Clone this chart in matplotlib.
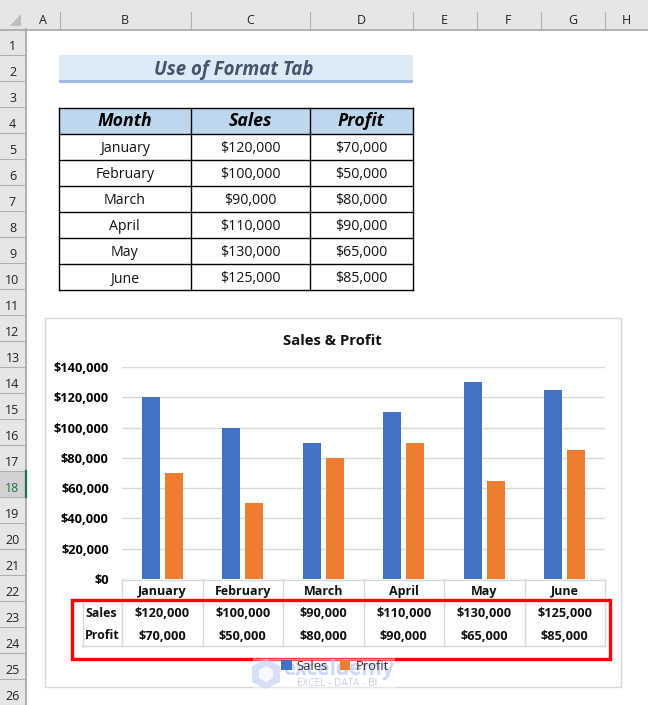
import matplotlib

matplotlib.use("Agg")
import matplotlib.pyplot as plt
from matplotlib.patches import Polygon, Rectangle
from matplotlib.ticker import FuncFormatter
from matplotlib.transforms import blended_transform_factory

W, H = 648, 705

months = ["January", "February", "March", "April", "May", "June"]
sales = [120000, 100000, 90000, 110000, 130000, 125000]
profit = [70000, 50000, 80000, 90000, 65000, 85000]
column_names = ["Month", "Sales", "Profit"]
sheet_columns = ["A", "B", "C", "D", "E", "F", "G", "H"]
column_edges = [26, 59.5, 190.5, 310, 412.5, 476.5, 540.5, 604.5, 648]

FONT = "Open Sans"
BLUE = "#4472C4"
ORANGE = "#ED7D31"
GRID = "#D9D9D9"
ROW_H = 26
ROW_TOP = 29


def money(value):
    return f"${value:,.0f}"


def row_y(row):
    return ROW_TOP + (row - 1) * ROW_H


def px_axes(fig, zorder):
    ax = fig.add_axes([0, 0, 1, 1], zorder=zorder)
    ax.set_xlim(0, W)
    ax.set_ylim(H, 0)
    ax.axis("off")
    ax.patch.set_visible(False)
    return ax


def draw_sheet(ax):
    # column and row headers
    ax.add_patch(Rectangle((0, 0), W, 29, fc="#E6E6E6", ec="none"))
    ax.add_patch(Rectangle((0, 0), 25.5, H, fc="#E6E6E6", ec="none"))
    ax.plot([0, W], [29.5, 29.5], color="#A6A6A6", lw=1.2)
    ax.plot([25.5, 25.5], [29, H], color="#A6A6A6", lw=1.2)
    ax.add_patch(Polygon([[21, 14], [21, 26], [10, 26]], fc="#BDBDBD", ec="none"))

    for i, name in enumerate(sheet_columns):
        left, right = column_edges[i], column_edges[i + 1]
        ax.plot([right, right], [12, 29], color="#B0B0B0", lw=0.8)
        ax.text((left + right) / 2, 24.5, name, ha="center", va="baseline",
                fontsize=9, color="#222222", family=FONT)

    for row in range(1, 27):
        y = row_y(row)
        ax.plot([0, 25], [y + ROW_H, y + ROW_H], color="#B0B0B0", lw=0.8)
        if row != 18:
            ax.text(12.5, y + 21.5, str(row), ha="center", va="baseline",
                    fontsize=9, color="#222222", family=FONT)

    # selected row marker
    ax.add_patch(Rectangle((0, row_y(18)), 25, ROW_H, fc="#D2D2D2", ec="none"))
    ax.text(12.5, row_y(18) + 21.5, "18", ha="center", va="baseline",
            fontsize=9, color="#217346", family=FONT)
    ax.plot([25.5, 25.5], [row_y(18), row_y(19)], color="#217346", lw=1.6)


def draw_title(ax):
    ax.add_patch(Rectangle((59, 55), 353.5, 26, fc="#DDEBF7", ec="none"))
    ax.add_patch(Rectangle((59, 80), 353.5, 3, fc="#A4BBE3", ec="none"))
    ax.text(234, 75, "Use of Format Tab", ha="center", va="baseline", fontsize=13.4,
            color="#44546A", weight="bold", style="italic", family=FONT)


def draw_table(ax):
    xs = [59, 190.5, 310, 412.5]
    top = 107.5
    ax.add_patch(Rectangle((xs[0], top), xs[-1] - xs[0], ROW_H, fc="#BDD7EE", ec="none"))

    for i, name in enumerate(column_names):
        ax.text((xs[i] + xs[i + 1]) / 2, top + 19, name, ha="center", va="baseline",
                fontsize=12.8, weight="bold", style="italic", color="black", family=FONT)

    for r, (month, s, p) in enumerate(zip(months, sales, profit), start=1):
        y = top + r * ROW_H + 19
        for i, label in enumerate([month, money(s), money(p)]):
            ax.text((xs[i] + xs[i + 1]) / 2, y, label, ha="center", va="baseline",
                    fontsize=10.2, color="#111111", family=FONT)

    for r in range(len(months) + 2):
        ax.plot([xs[0], xs[-1]], [top + r * ROW_H] * 2, color="black", lw=1)
    for x in xs:
        ax.plot([x, x], [top, top + 7 * ROW_H], color="black", lw=1)


def draw_chart(fig, sheet):
    sheet.add_patch(Rectangle((45, 318), 575.5, 369, fc="white", ec="#D9D9D9", lw=1))

    ax = fig.add_axes([122 / W, 1 - 579 / H, (605 - 122) / W, (579 - 367) / H], zorder=1)
    ax.patch.set_visible(False)
    x = list(range(len(months)))
    width = 0.224
    offset = 0.14
    sales_bars = ax.bar([i - offset for i in x], sales, width, color=BLUE, label="Sales", zorder=3)
    profit_bars = ax.bar([i + offset for i in x], profit, width, color=ORANGE, label="Profit", zorder=3)

    ax.set_xlim(-0.5, 5.5)
    ax.set_ylim(0, 140000)
    ax.set_yticks(range(0, 140001, 20000))
    ax.yaxis.set_major_formatter(FuncFormatter(lambda v, _: money(v)))
    ax.set_xticks([])
    ax.grid(axis="y", color=GRID, lw=1, zorder=0)
    ax.tick_params(axis="y", length=0, pad=9.5, labelsize=9.2)
    for label in ax.get_yticklabels():
        label.set_fontweight("bold")
        label.set_family(FONT)
    for spine in ax.spines.values():
        spine.set_visible(False)

    sheet.text(332, 345, "Sales & Profit", ha="center", va="baseline", fontsize=10.7,
               weight="bold", color="#111111", family=FONT)

    # data table below the axis, x from the chart axes, y in pixels
    trans = blended_transform_factory(ax.transData, sheet.transData)
    edges = [i - 0.5 for i in range(len(months) + 1)]
    for e in edges:
        sheet.plot([e, e], [579, 646], color=GRID, lw=1, transform=trans, zorder=3)
    sheet.plot([-0.5, 5.5], [579.5, 579.5], color=GRID, lw=1, transform=trans, zorder=3)
    sheet.plot([82, 605], [646, 646], color=GRID, lw=1, zorder=3)
    sheet.plot([82, 605], [600.5, 600.5], color=GRID, lw=1, zorder=3)
    sheet.plot([82.5, 82.5], [600, 646], color=GRID, lw=1, zorder=3)

    for i, month in enumerate(months):
        sheet.text(i, 594.7, month, transform=trans, ha="center", va="baseline",
                   fontsize=9, weight="bold", color="#111111", family=FONT, zorder=4)
        sheet.text(i, 617, money(sales[i]), transform=trans, ha="center", va="baseline",
                   fontsize=9.2, weight="bold", color="#111111", family=FONT, zorder=4)
        sheet.text(i, 640, money(profit[i]), transform=trans, ha="center", va="baseline",
                   fontsize=9.2, weight="bold", color="#111111", family=FONT, zorder=4)
    sheet.text(85, 617, "Sales", ha="left", va="baseline", fontsize=8.9,
               weight="bold", color="#111111", family=FONT, zorder=4)
    sheet.text(85, 639, "Profit", ha="left", va="baseline", fontsize=8.9,
               weight="bold", color="#111111", family=FONT, zorder=4)

    legend = fig.legend(
        [sales_bars, profit_bars], ["Sales", "Profit"], ncol=2, frameon=False,
        loc="center", bbox_to_anchor=(335 / W, 1 - 666 / H),
        prop={"family": FONT, "size": 9.4}, handlelength=0.8, handleheight=0.8,
        handletextpad=0.4, columnspacing=0.9, borderpad=0,
    )
    for text in legend.get_texts():
        text.set_color("#333333")


def draw_overlay(ax):
    ax.add_patch(Rectangle((71.5, 600), 538, 58.5, fc="none", ec="#FF0000", lw=2.4))

    # watermark on top of the legend
    ax.add_patch(Rectangle((253, 659), 142, 30, fc="white", ec="none", alpha=0.35))
    ax.add_patch(Rectangle((253, 657), 142, 3, fc="white", ec="none", alpha=0.25))
    ax.add_patch(Polygon([[266, 659], [280, 666], [280, 682], [266, 689], [252, 682], [252, 666]],
                         fc="#C9D6F5", ec="none", alpha=0.75))
    ax.add_patch(Polygon([[266, 666], [273, 670], [273, 678], [266, 682], [259, 678], [259, 670]],
                         fc="white", ec="none", alpha=0.8))
    ax.text(283, 670, "exceldemy", ha="left", va="center", fontsize=15, weight="bold",
            color="#BCCBF3", alpha=0.75, family=FONT)
    ax.text(297, 683, "EXCEL - DATA - BI", ha="left", va="center", fontsize=7.2,
            color="#C8CFDF", family=FONT)


def main():
    fig = plt.figure(figsize=(W / 100, H / 100), dpi=100, facecolor="white")
    sheet = px_axes(fig, 0)
    overlay = px_axes(fig, 2)

    draw_sheet(sheet)
    draw_title(sheet)
    draw_table(sheet)
    draw_chart(fig, sheet)
    draw_overlay(overlay)

    fig.savefig("out.png", dpi=100)
    plt.close(fig)


if __name__ == "__main__":
    main()
